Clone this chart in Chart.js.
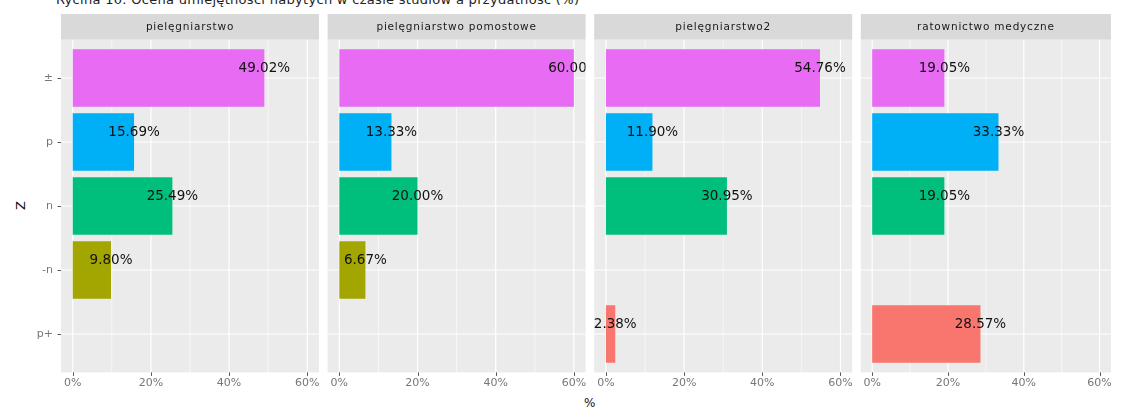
<!DOCTYPE html>
<html>
<head>
<meta charset="utf-8">
<script src="https://cdn.jsdelivr.net/npm/chart.js@4"></script>
<style>
  body { margin: 0; background: #fff; }
  #wrap { position: relative; width: 1123px; height: 413px; overflow: hidden; background: #fff; font-family: 'DejaVu Sans', sans-serif; }
  #wrap canvas { position: absolute; left: 0; top: 0; }
  #title { position: absolute; left: 56px; top: -8px; font-size: 13px; color: #222; white-space: nowrap; letter-spacing: 0.3px; }
  #ytitle { position: absolute; left: 16px; top: 198px; font-size: 13px; color: #111; transform: rotate(-90deg); }
  #xtitle { position: absolute; left: 584px; top: 396px; font-size: 12px; color: #111; }
</style>
</head>
<body>
<div id="wrap">
  <div id="title">Rycina 10. Ocena umiejętności nabytych w czasie studiów a przydatność (%)</div>
  <div id="ytitle">Z</div>
  <div id="xtitle">%</div>
</div>
<script>
// categories (top to bottom) and facets
const categories = ['±', 'p', 'n', '-n', 'p+'];
const panelNames = ['pielęgniarstwo', 'pielęgniarstwo pomostowe', 'pielęgniarstwo2', 'ratownictwo medyczne'];

// percentages per facet, same order as categories
const pielegniarstwo = [49.02, 15.69, 25.49, 9.80, null];
const pielegniarstwoPomostowe = [60.00, 13.33, 20.00, 6.67, null];
const pielegniarstwo2 = [54.76, 11.90, 30.95, null, 2.38];
const ratownictwoMedyczne = [19.05, 33.33, 19.05, null, 28.57];

const barColors = ['#E76BF3', '#00B0F6', '#00BF7D', '#A3A500', '#F8766D'];
const xTicks = [0, 20, 40, 60];
const xMinor = [10, 30, 50];

const seriesList = [pielegniarstwo, pielegniarstwoPomostowe, pielegniarstwo2, ratownictwoMedyczne];

const W = 1123, H = 413;
const firstLeft = 61, panelStep = 266.6, panelW = 258;
const yAxisW = 50, xAxisH = 40;

function panelRect(chart) {
  const a = chart.chartArea;
  const ext = 0.1 * (a.bottom - a.top) / categories.length;
  return { left: a.left, right: a.right, top: a.top - ext, bottom: a.bottom + ext };
}

const facetPlugin = {
  id: 'facet',
  beforeDraw(chart) {
    const ctx = chart.ctx;
    const p = panelRect(chart);
    const xs = chart.scales.x, ys = chart.scales.y;
    ctx.save();
    ctx.fillStyle = '#EBEBEB';
    ctx.fillRect(p.left, p.top, p.right - p.left, p.bottom - p.top);
    ctx.strokeStyle = '#FFFFFF';
    ctx.lineWidth = 0.6;
    xMinor.forEach(v => {
      const x = xs.getPixelForValue(v);
      ctx.beginPath(); ctx.moveTo(x, p.top); ctx.lineTo(x, p.bottom); ctx.stroke();
    });
    ctx.lineWidth = 1.2;
    xTicks.forEach(v => {
      const x = xs.getPixelForValue(v);
      ctx.beginPath(); ctx.moveTo(x, p.top); ctx.lineTo(x, p.bottom); ctx.stroke();
    });
    categories.forEach((c, i) => {
      const y = ys.getPixelForValue(i);
      ctx.beginPath(); ctx.moveTo(p.left, y); ctx.lineTo(p.right, y); ctx.stroke();
    });
    // tick marks
    ctx.strokeStyle = '#555';
    ctx.lineWidth = 1;
    xTicks.forEach(v => {
      const x = Math.round(xs.getPixelForValue(v)) + 0.5;
      ctx.beginPath(); ctx.moveTo(x, p.bottom); ctx.lineTo(x, p.bottom + 3.5); ctx.stroke();
    });
    if (chart.options.facetIndex === 0) {
      categories.forEach((c, i) => {
        const y = Math.round(ys.getPixelForValue(i)) + 0.5;
        ctx.beginPath(); ctx.moveTo(p.left - 3.5, y); ctx.lineTo(p.left, y); ctx.stroke();
      });
    }
    // strip
    ctx.fillStyle = '#D9D9D9';
    ctx.fillRect(p.left, 14, p.right - p.left, p.top - 14);
    ctx.fillStyle = '#1A1A1A';
    ctx.font = '10.5px "DejaVu Sans"';
    ctx.letterSpacing = '0.8px';
    ctx.textAlign = 'center';
    ctx.textBaseline = 'middle';
    ctx.fillText(chart.options.facetName, (p.left + p.right) / 2, (14 + p.top) / 2);
    ctx.restore();
  },
  afterDatasetsDraw(chart) {
    const ctx = chart.ctx;
    const p = panelRect(chart);
    const xs = chart.scales.x, ys = chart.scales.y;
    const data = chart.data.datasets[0].data;
    ctx.save();
    ctx.beginPath();
    ctx.rect(p.left - 20, p.top, p.right - p.left + 20, p.bottom - p.top);
    ctx.clip();
    ctx.fillStyle = '#111';
    ctx.font = '13.5px "DejaVu Sans"';
    ctx.textAlign = 'center';
    ctx.textBaseline = 'middle';
    data.forEach((v, i) => {
      if (v === null) return;
      ctx.fillText(v.toFixed(2) + '%', xs.getPixelForValue(v), ys.getPixelForValue(i) - 10);
    });
    ctx.restore();
  }
};

const wrap = document.getElementById('wrap');
seriesList.forEach((series, k) => {
  const canvas = document.createElement('canvas');
  canvas.width = W; canvas.height = H;
  canvas.style.width = W + 'px'; canvas.style.height = H + 'px';
  wrap.appendChild(canvas);
  const left = firstLeft + k * panelStep;
  const yw = k === 0 ? yAxisW : 0;
  new Chart(canvas.getContext('2d'), {
    type: 'bar',
    data: {
      labels: categories,
      datasets: [{
        data: series,
        backgroundColor: barColors,
        barPercentage: 0.9,
        categoryPercentage: 1.0,
      }],
    },
    options: {
      facetIndex: k,
      facetName: panelNames[k],
      indexAxis: 'y',
      responsive: false,
      animation: false,
      events: [],
      layout: { padding: { left: left - yw, right: W - left - panelW, top: 46, bottom: 47 - xAxisH } },
      plugins: { legend: { display: false }, tooltip: { enabled: false } },
      scales: {
        x: {
          type: 'linear',
          min: -3,
          max: 63,
          afterBuildTicks: s => { s.ticks = xTicks.map(v => ({ value: v })); },
          afterFit: s => { s.height = xAxisH; },
          grid: { display: false, drawTicks: false },
          border: { display: false },
          ticks: {
            padding: 11,
            color: '#777',
            font: { family: 'DejaVu Sans', size: 11 },
            callback: v => v + '%',
            maxRotation: 0,
            autoSkip: false,
          },
        },
        y: {
          afterFit: s => { s.width = yw; },
          grid: { display: false, drawTicks: false },
          border: { display: false },
          ticks: {
            display: k === 0,
            padding: 8,
            color: '#777',
            font: { family: 'DejaVu Sans', size: 11 },
          },
        },
      },
    },
    plugins: [facetPlugin],
  });
});
</script>
</body>
</html>
